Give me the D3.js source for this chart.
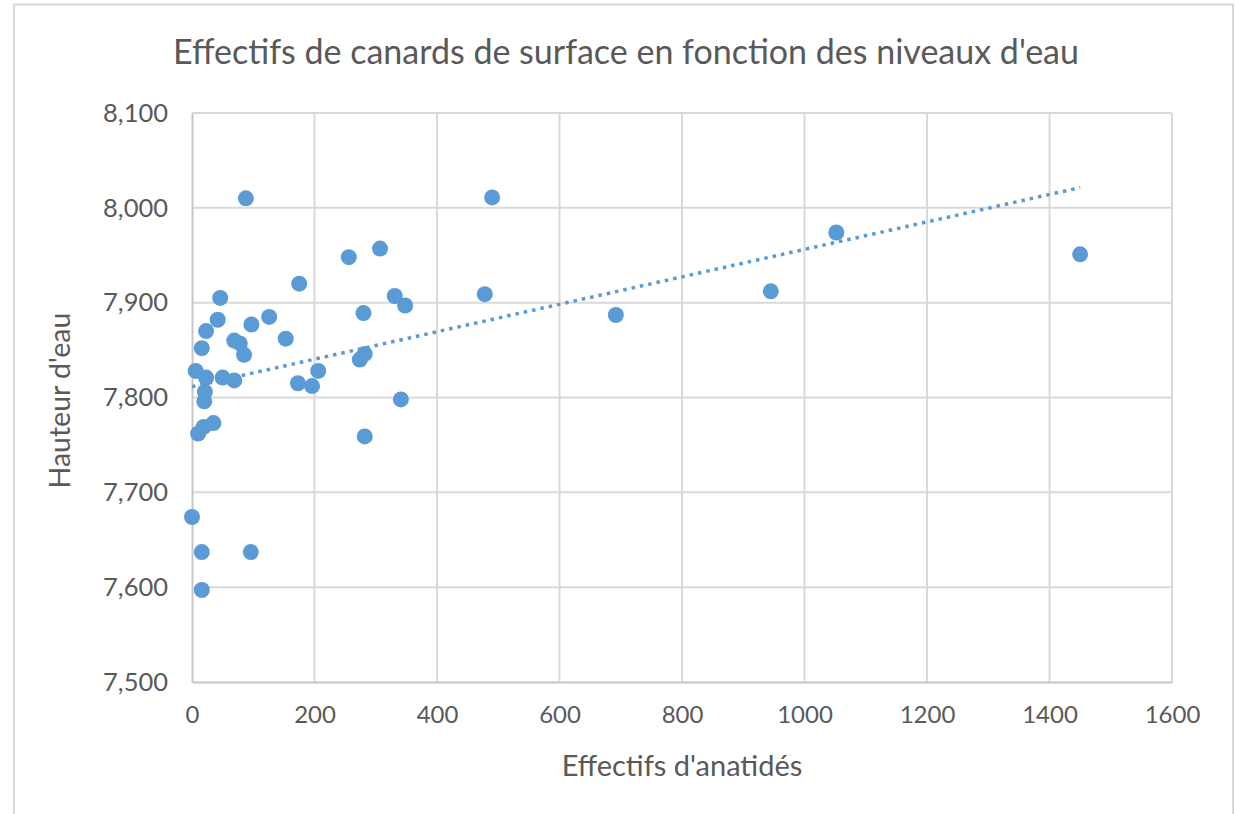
<!DOCTYPE html>
<html>
<head>
<meta charset="utf-8">
<script src="https://cdn.jsdelivr.net/npm/d3@7"></script>
<style>
  html, body { margin: 0; padding: 0; background: #fff; }
  text { font-family: Lato, "Open Sans", sans-serif; fill: #595959; }
</style>
</head>
<body>
<div id="chart"></div>
<script>
"use strict";

// Effectifs d'anatidés (x) et hauteur d'eau (y)
var effectifs = [88, 490, 1052, 307, 256, 1450, 175, 945, 478, 331, 46, 348, 280, 692, 126,
  42, 97, 23, 153, 69, 78, 16, 85, 282, 274, 6, 206, 23, 50, 69, 173, 196, 21, 20, 341,
  35, 19, 10, 282, 0, 16, 96, 16];
var hauteurs = [8010, 8011, 7974, 7957, 7948, 7951, 7920, 7912, 7909, 7907, 7905, 7897, 7889, 7887, 7885,
  7882, 7877, 7870, 7862, 7860, 7857, 7852, 7845, 7846, 7840, 7828, 7828, 7821, 7821, 7818, 7815, 7812, 7806, 7796, 7798,
  7773, 7769, 7762, 7759, 7674, 7637, 7637, 7597];
var xTicks = [0, 200, 400, 600, 800, 1000, 1200, 1400, 1600];
var yTicks = [7500, 7600, 7700, 7800, 7900, 8000, 8100];

var width = 1235;
var height = 814;
var plot = { left: 192, right: 1172, top: 113, bottom: 682 };
var blue = "#5b9bd5";

var data = effectifs.map(function (d, i) { return { x: d, y: hauteurs[i] }; });

var svg = d3.select("#chart").append("svg")
  .attr("width", width).attr("height", height);

svg.append("rect").attr("x", 14).attr("y", 4.5).attr("width", 1219).attr("height", 830)
  .attr("fill", "#fff").attr("stroke", "#d9d9d9").attr("stroke-width", 2);

var x = d3.scaleLinear().domain([0, 1600]).range([plot.left, plot.right]);
var y = d3.scaleLinear().domain([7500, 8100]).range([plot.bottom, plot.top]);

// grille
svg.append("g").selectAll("line").data(yTicks.slice(1)).enter().append("line")
  .attr("x1", plot.left).attr("x2", plot.right)
  .attr("y1", function (d) { return y(d); }).attr("y2", function (d) { return y(d); })
  .attr("stroke", "#d9d9d9").attr("stroke-width", 2);
svg.append("g").selectAll("line").data(xTicks.slice(1)).enter().append("line")
  .attr("y1", plot.top).attr("y2", plot.bottom)
  .attr("x1", function (d) { return x(d); }).attr("x2", function (d) { return x(d); })
  .attr("stroke", "#d9d9d9").attr("stroke-width", 2);

// axes
var xAxis = d3.axisBottom(x).tickValues(xTicks).tickSize(0).tickPadding(24).tickFormat(d3.format("d"));
var gX = svg.append("g").attr("transform", "translate(0," + plot.bottom + ")").call(xAxis);
gX.select(".domain").attr("stroke", "#c6c6c6").attr("stroke-width", 2);
gX.selectAll("text").style("font-size", "24px").attr("fill", "#595959");

var yAxis = d3.axisLeft(y).tickValues(yTicks).tickSize(0).tickPadding(24).tickFormat(d3.format(","));
var gY = svg.append("g").attr("transform", "translate(" + plot.left + ",0)").call(yAxis);
gY.select(".domain").attr("stroke", "#c6c6c6").attr("stroke-width", 2);
gY.selectAll("text").style("font-size", "25.5px").attr("fill", "#595959");

// courbe de tendance linéaire (moindres carrés)
var mx = d3.mean(data, function (d) { return d.x; });
var my = d3.mean(data, function (d) { return d.y; });
var sxy = d3.sum(data, function (d) { return (d.x - mx) * (d.y - my); });
var sxx = d3.sum(data, function (d) { return (d.x - mx) * (d.x - mx); });
var slope = sxy / sxx;
var intercept = my - slope * mx;
var xr = d3.extent(data, function (d) { return d.x; });
svg.append("line")
  .attr("x1", x(xr[0])).attr("y1", y(intercept + slope * xr[0]))
  .attr("x2", x(xr[1])).attr("y2", y(intercept + slope * xr[1]))
  .attr("stroke", blue).attr("stroke-width", 3.5).attr("stroke-dasharray", "3.5 5");

// points
svg.append("g").selectAll("circle").data(data).enter().append("circle")
  .attr("cx", function (d) { return x(d.x); })
  .attr("cy", function (d) { return y(d.y); })
  .attr("r", 8)
  .attr("fill", blue);

// titres
svg.append("text").attr("x", 626).attr("y", 64).attr("text-anchor", "middle")
  .style("font-size", "34px").text("Effectifs de canards de surface en fonction des niveaux d'eau");
svg.append("text").attr("x", (plot.left + plot.right) / 2).attr("y", 776).attr("text-anchor", "middle")
  .style("font-size", "29px").text("Effectifs d'anatidés");
svg.append("text").attr("transform", "translate(70," + ((plot.top + plot.bottom) / 2 + 3) + ") rotate(-90)")
  .attr("text-anchor", "middle")
  .style("font-size", "28.5px").text("Hauteur d'eau");
</script>
</body>
</html>
